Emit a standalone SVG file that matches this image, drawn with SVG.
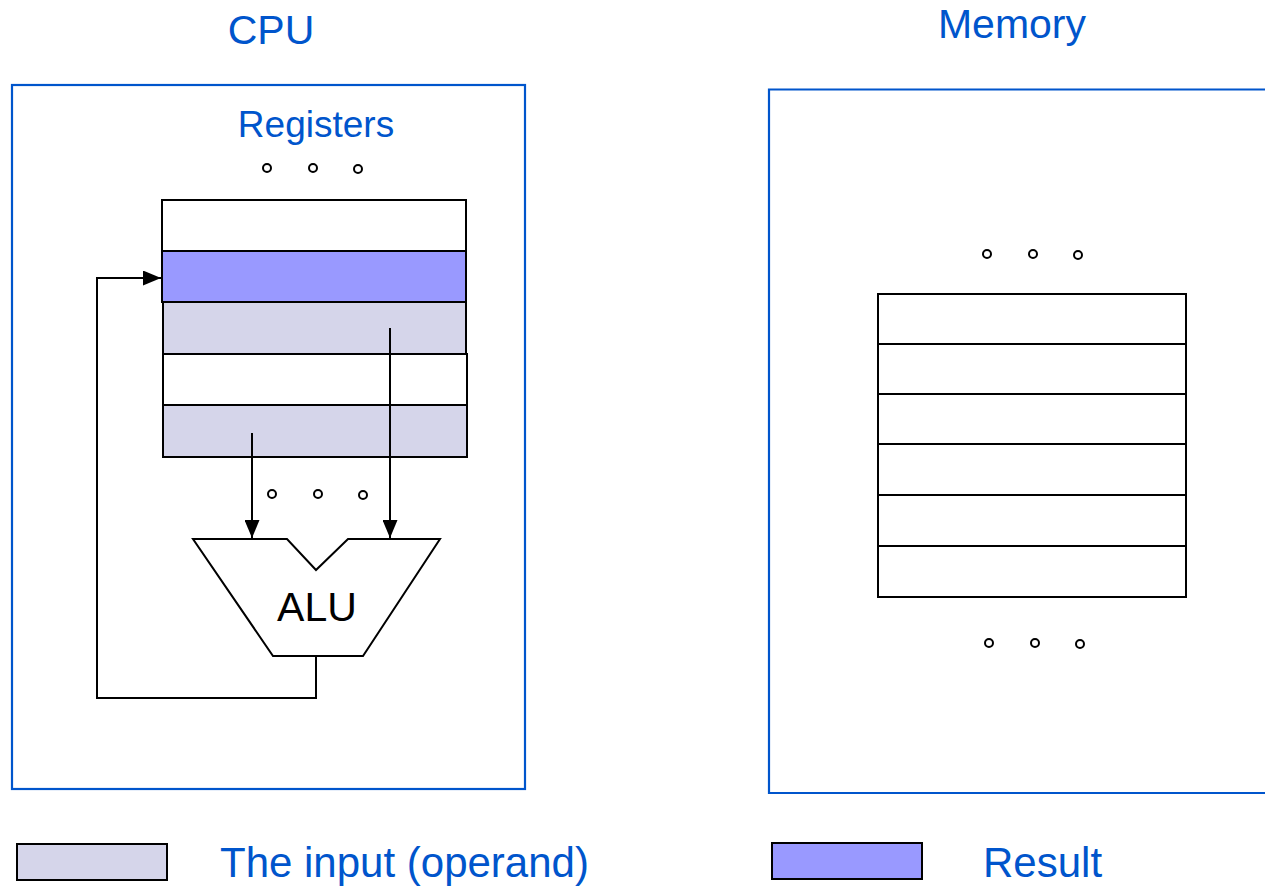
<svg xmlns="http://www.w3.org/2000/svg" width="1265" height="886" viewBox="0 0 1265 886">
<defs>
<style>
.title{font-family:"Liberation Sans",Arial,sans-serif;fill:#0055cc;}
.frame{fill:none;stroke:#0055cc;stroke-width:2.2;}
.cell{stroke:#000;stroke-width:2;}
.white{fill:#fff;}
.in{fill:#d5d5ea;}
.res{fill:#9999ff;}
.dot{fill:#fff;stroke:#000;stroke-width:2;}
.wire{fill:none;stroke:#000;stroke-width:2;}
</style>
<marker id="arr" viewBox="0 0 18 15" refX="18" refY="7.5" markerWidth="18" markerHeight="15" markerUnits="userSpaceOnUse" orient="auto">
<path d="M0,0 L18,7.5 L0,15 Z" fill="#000"/>
</marker>
</defs>
<rect width="1265" height="886" fill="#fff"/>

<g id="cpu">
<rect class="frame" x="12" y="85" width="513" height="704"/>
<text class="title" x="271" y="44" font-size="41" text-anchor="middle">CPU</text>
<text class="title" x="316" y="137" font-size="37" text-anchor="middle">Registers</text>
</g>

<g id="registers">
<rect class="cell white" x="162" y="200" width="304" height="51"/>
<rect class="cell res" x="162" y="251" width="304" height="51"/>
<rect class="cell in" x="163" y="302" width="303" height="52"/>
<rect class="cell white" x="163" y="354" width="304" height="51"/>
<rect class="cell in" x="163" y="405" width="304" height="52"/>
<circle class="dot" cx="267" cy="168" r="4"/>
<circle class="dot" cx="313" cy="168" r="4"/>
<circle class="dot" cx="358" cy="169" r="4"/>
<circle class="dot" cx="272" cy="494" r="4"/>
<circle class="dot" cx="318" cy="494" r="4"/>
<circle class="dot" cx="363" cy="495" r="4"/>
</g>

<g id="alu">
<path class="wire" fill="#fff" d="M193,539 H287 L316,570 L348,539 H440 L363,656 H273 Z"/>
<text x="317" y="621" font-family="'Liberation Sans',Arial,sans-serif" font-size="41" text-anchor="middle" fill="#000">ALU</text>
</g>

<g id="connectors">
<path class="wire" d="M252,433 V538" marker-end="url(#arr)"/>
<path class="wire" d="M390,328 V538" marker-end="url(#arr)"/>
<path class="wire" d="M316,656 V698 H97 V278 H161" marker-end="url(#arr)"/>
</g>

<g id="memory">
<path class="frame" d="M1275,89.5 H769 V793 H1275"/>
<text class="title" x="1012" y="38" font-size="41" text-anchor="middle">Memory</text>
<rect class="cell white" x="878" y="294" width="308" height="50"/>
<rect class="cell white" x="878" y="344" width="308" height="50"/>
<rect class="cell white" x="878" y="394" width="308" height="50"/>
<rect class="cell white" x="878" y="444" width="308" height="51"/>
<rect class="cell white" x="878" y="495" width="308" height="51"/>
<rect class="cell white" x="878" y="546" width="308" height="51"/>
<circle class="dot" cx="987" cy="254" r="4"/>
<circle class="dot" cx="1033" cy="254" r="4"/>
<circle class="dot" cx="1078" cy="255" r="4"/>
<circle class="dot" cx="989" cy="643" r="4"/>
<circle class="dot" cx="1035" cy="643" r="4"/>
<circle class="dot" cx="1080" cy="644" r="4"/>
</g>

<g id="legend-input">
<rect class="cell in" x="17" y="844" width="150" height="36"/>
<text class="title" x="220" y="877" font-size="42">The input (operand)</text>
</g>

<g id="legend-result">
<rect class="cell res" x="772" y="843" width="150" height="36"/>
<text class="title" x="983" y="877" font-size="42">Result</text>
</g>
</svg>
